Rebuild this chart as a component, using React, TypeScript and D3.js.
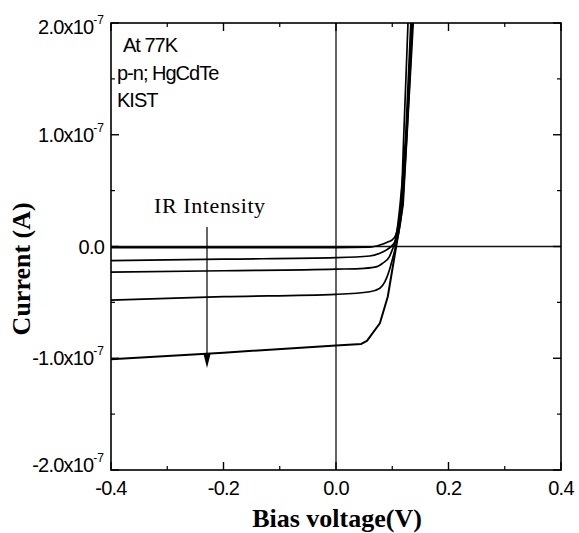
import React from 'react';
import * as d3 from 'd3';

// I-V curves of a p-n HgCdTe diode at 77K, current in units of 1e-7 A
const curveDark = [[-0.4, -0.01], [0.0, -0.01], [0.06, -0.006], [0.078, 0.013], [0.092, 0.04], [0.1, 0.06], [0.106, 0.1], [0.116, 0.42], [0.1205, 1.0], [0.128, 2.0], [0.131, 2.4]];
const curveLow = [[-0.4, -0.127], [-0.2, -0.113], [0.0, -0.1], [0.06, -0.085], [0.078, -0.06], [0.09, -0.03], [0.1, 0.01], [0.105, 0.05], [0.114, 0.38], [0.124, 1.0], [0.133, 2.0], [0.136, 2.4]];
const curveMid = [[-0.4, -0.23], [-0.2, -0.217], [0.0, -0.203], [0.05, -0.195], [0.073, -0.18], [0.083, -0.15], [0.095, -0.09], [0.1, -0.03], [0.104, 0.02], [0.116, 0.38], [0.125, 1.0], [0.135, 2.0], [0.138, 2.4]];
const curveHigh = [[-0.4, -0.479], [-0.2, -0.449], [0.0, -0.428], [0.06, -0.405], [0.078, -0.374], [0.087, -0.315], [0.095, -0.21], [0.1, -0.12], [0.106, 0.0], [0.118, 0.37], [0.126, 1.0], [0.136, 2.0], [0.14, 2.4]];
const curveMax = [[-0.4, -1.01], [-0.2, -0.95], [0.0, -0.885], [0.045, -0.872], [0.055, -0.845], [0.078, -0.687], [0.092, -0.45], [0.1, -0.21], [0.107, 0.0], [0.119, 0.37], [0.126, 1.0], [0.137, 2.0], [0.14, 2.4]];
const curves = [curveDark, curveLow, curveMid, curveHigh, curveMax];

const xMajor = [-0.4, -0.2, 0.0, 0.2, 0.4];
const xMinor = [-0.3, -0.1, 0.1, 0.3];
const xLabels = ['-0.4', '-0.2', '0.0', '0.2', '0.4'];
const yMajor = [2, 1, 0, -1, -2];
const yMinor = [1.5, 0.5, -0.5, -1.5];
const yLabels = ['2.0x10', '1.0x10', '0.0', '-1.0x10', '-2.0x10'];
const yExp = ['-7', '-7', '', '-7', '-7'];
const notes = ['At 77K', 'p-n; HgCdTe', 'KIST'];

export default function App() {
  const width = 579;
  const height = 533;
  const left = 111, right = 561, top = 23, bottom = 470;

  const x = d3.scaleLinear().domain([-0.4, 0.4]).range([left, right]);
  const y = d3.scaleLinear().domain([-2, 2]).range([bottom, top]);

  const smooth = d3.line<number[]>()
    .x(d => x(d[0]))
    .y(d => y(d[1]))
    .curve(d3.curveMonotoneX);
  // the strongest illumination curve has a sharp knee
  const straight = d3.line<number[]>()
    .x(d => x(d[0]))
    .y(d => y(d[1]));

  const sans = '"Liberation Sans", Arial, sans-serif';
  const serif = '"Liberation Serif", "Times New Roman", serif';
  const labelDy = [11, 7, 7, 7, 2];
  const arrowX = 207;

  return (
    <svg width={width} height={height} style={{ position: 'absolute', left: 0, top: 0, background: '#fff' }}>
      <defs>
        <clipPath id="plot">
          <rect x={left} y={top} width={right - left} height={bottom - top} />
        </clipPath>
      </defs>

      {/* zero lines */}
      <line x1={left} x2={right} y1={y(0)} y2={y(0)} stroke="#111" strokeWidth={1.3} />
      <line x1={x(0)} x2={x(0)} y1={top} y2={bottom} stroke="#111" strokeWidth={1.3} />

      {/* curves */}
      <g clipPath="url(#plot)">
        {curves.map((c, i) => (
          <path key={i} d={(i === 4 ? straight(c) : smooth(c)) || ''} fill="none" stroke="#000"
            strokeWidth={i === 4 ? 2 : 1.7} strokeLinejoin="round" />
        ))}
      </g>

      {/* frame */}
      <rect x={left} y={top} width={right - left} height={bottom - top} fill="none" stroke="#000" strokeWidth={1.6} />

      {/* ticks */}
      {xMajor.map(v => (
        <g key={'xm' + v}>
          <line x1={x(v)} x2={x(v)} y1={bottom} y2={bottom - 8} stroke="#000" strokeWidth={1.4} />
          <line x1={x(v)} x2={x(v)} y1={top} y2={top + 8} stroke="#000" strokeWidth={1.4} />
        </g>
      ))}
      {xMinor.map(v => (
        <g key={'xn' + v}>
          <line x1={x(v)} x2={x(v)} y1={bottom} y2={bottom - 4} stroke="#000" strokeWidth={1.2} />
          <line x1={x(v)} x2={x(v)} y1={top} y2={top + 4} stroke="#000" strokeWidth={1.2} />
        </g>
      ))}
      {yMajor.map(v => (
        <g key={'ym' + v}>
          <line x1={left} x2={left + 8} y1={y(v)} y2={y(v)} stroke="#000" strokeWidth={1.4} />
          <line x1={right} x2={right - 8} y1={y(v)} y2={y(v)} stroke="#000" strokeWidth={1.4} />
        </g>
      ))}
      {yMinor.map(v => (
        <g key={'yn' + v}>
          <line x1={left} x2={left + 4} y1={y(v)} y2={y(v)} stroke="#000" strokeWidth={1.2} />
          <line x1={right} x2={right - 4} y1={y(v)} y2={y(v)} stroke="#000" strokeWidth={1.2} />
        </g>
      ))}

      {/* x tick labels */}
      {xMajor.map((v, i) => (
        <text key={'xl' + v} x={x(v)} y={bottom + 25} textAnchor="middle" fontFamily={sans} fontSize={20} letterSpacing={-0.8} fill="#000">
          {xLabels[i]}
        </text>
      ))}

      {/* y tick labels */}
      {yMajor.map((v, i) => (
        <text key={'yl' + v} x={104} y={y(v) + labelDy[i]} textAnchor="end" fontFamily={sans} fontSize={20} letterSpacing={-0.8} fill="#000">
          {yLabels[i]}
          {yExp[i] && <tspan dy={-10} fontSize={12} letterSpacing={0}>{yExp[i]}</tspan>}
        </text>
      ))}

      {/* axis titles */}
      <text x={337} y={527} textAnchor="middle" fontFamily={serif} fontWeight="bold" fontSize={26} fill="#000">
        Bias voltage(V)
      </text>
      <text transform={`translate(30,${y(-0.2)}) rotate(-90)`} textAnchor="middle" fontFamily={serif} fontWeight="bold" fontSize={26} fill="#000">
        Current (A)
      </text>

      {/* notes */}
      {notes.map((n, i) => (
        <text key={n} x={i === 0 ? 123 : 117} y={52 + i * 27.5} fontFamily={sans} fontSize={20} letterSpacing={-1} fill="#000">
          {n}
        </text>
      ))}

      {/* IR intensity arrow */}
      <text x={arrowX - 53} y={213} fontFamily={serif} fontSize={22} letterSpacing={0.6} fill="#000">IR Intensity</text>
      <line x1={arrowX} x2={arrowX} y1={227} y2={358} stroke="#000" strokeWidth={1.2} />
      <path d={`M${arrowX - 3.5},354 L${arrowX + 3.5},354 L${arrowX},368 Z`} fill="#000" />
    </svg>
  );
}
